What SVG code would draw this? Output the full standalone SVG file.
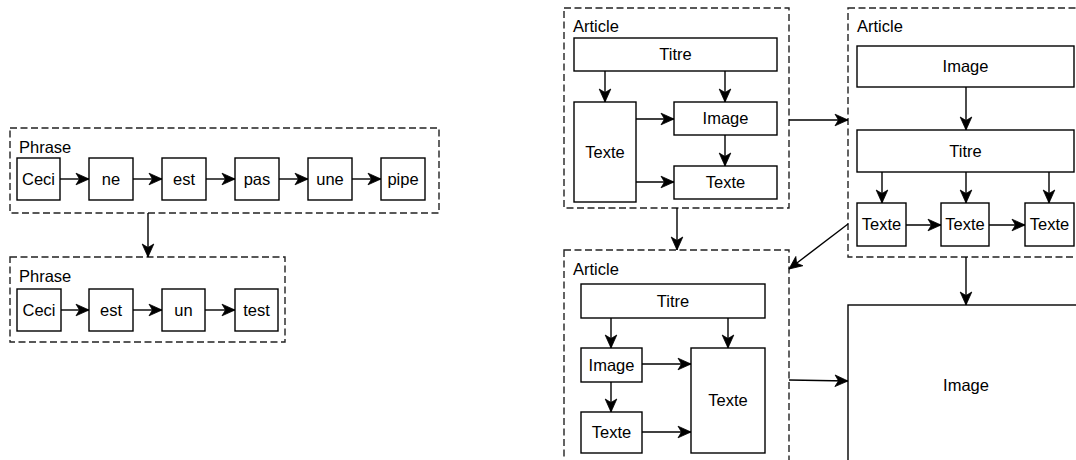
<svg xmlns="http://www.w3.org/2000/svg" width="1076" height="460" viewBox="0 0 1076 460">
  <style>
    .bg { fill: #ffffff; }
    .group { fill: none; stroke: #222222; stroke-width: 1.4; stroke-dasharray: 7 3.5; }
    .box { fill: #ffffff; stroke: #000000; stroke-width: 1.4; }
    .edge { fill: none; stroke: #000000; stroke-width: 1.4; marker-end: url(#arrow); }
    text { font-family: "Liberation Sans", Arial, sans-serif; font-size: 16.5px; fill: #000000; }
    .c { text-anchor: middle; }
  </style>
  <defs>
    <marker id="arrow" viewBox="-14 -8 15 16" refX="0" refY="0" markerWidth="15" markerHeight="16" markerUnits="userSpaceOnUse" orient="auto">
      <path d="M0,0 L-13,-5.8 L-9.5,0 L-13,5.8 Z" fill="#000000" stroke="#000000" stroke-width="0.8" stroke-linejoin="miter"/>
    </marker>
  </defs>
  <rect class="bg" x="0" y="0" width="1076" height="460"/>

  <!-- Sentence 1 -->
  <g id="phrase1">
    <rect class="group" x="10" y="128" width="429" height="85"/>
    <text x="19" y="153">Phrase</text>
  </g>
  <g id="p1-ceci"><rect class="box" x="17" y="158" width="43" height="42"/><text class="c" x="38.5" y="185">Ceci</text></g>
  <g id="p1-ne"><rect class="box" x="89" y="158" width="44" height="42"/><text class="c" x="111" y="185">ne</text></g>
  <g id="p1-est"><rect class="box" x="162" y="158" width="44" height="42"/><text class="c" x="184" y="185">est</text></g>
  <g id="p1-pas"><rect class="box" x="235" y="158" width="44" height="42"/><text class="c" x="257" y="185">pas</text></g>
  <g id="p1-une"><rect class="box" x="308" y="158" width="44" height="42"/><text class="c" x="330" y="185">une</text></g>
  <g id="p1-pipe"><rect class="box" x="381" y="158" width="44" height="42"/><text class="c" x="403" y="185">pipe</text></g>

  <!-- Sentence 2 -->
  <g id="phrase2">
    <rect class="group" x="10" y="257" width="275" height="85"/>
    <text x="19" y="282">Phrase</text>
  </g>
  <g id="p2-ceci"><rect class="box" x="17" y="289" width="44" height="42"/><text class="c" x="39" y="316">Ceci</text></g>
  <g id="p2-est"><rect class="box" x="89" y="289" width="44" height="42"/><text class="c" x="111" y="316">est</text></g>
  <g id="p2-un"><rect class="box" x="162" y="289" width="43" height="42"/><text class="c" x="183.5" y="316">un</text></g>
  <g id="p2-test"><rect class="box" x="235" y="289" width="43" height="42"/><text class="c" x="256.5" y="316">test</text></g>

  <!-- Article 1 -->
  <g id="article1">
    <rect class="group" x="564" y="8" width="225" height="200"/>
    <text x="573" y="32">Article</text>
  </g>
  <g id="a1-titre"><rect class="box" x="574" y="38" width="203" height="33"/><text class="c" x="675.5" y="60">Titre</text></g>
  <g id="a1-texte-side"><rect class="box" x="574" y="102" width="62" height="100"/><text class="c" x="605" y="157.5">Texte</text></g>
  <g id="a1-image"><rect class="box" x="674" y="102" width="103" height="33"/><text class="c" x="725.5" y="124">Image</text></g>
  <g id="a1-texte"><rect class="box" x="674" y="166" width="103" height="33"/><text class="c" x="725.5" y="188">Texte</text></g>

  <!-- Article 2 -->
  <g id="article2">
    <rect class="group" x="848" y="8" width="240" height="249"/>
    <text x="857" y="32">Article</text>
  </g>
  <g id="a2-image"><rect class="box" x="857" y="46" width="217" height="41"/><text class="c" x="965.5" y="72">Image</text></g>
  <g id="a2-titre"><rect class="box" x="857" y="130" width="217" height="42"/><text class="c" x="965.5" y="157">Titre</text></g>
  <g id="a2-texte1"><rect class="box" x="857" y="203" width="49" height="43"/><text class="c" x="881.5" y="230">Texte</text></g>
  <g id="a2-texte2"><rect class="box" x="941" y="203" width="48" height="43"/><text class="c" x="965" y="230">Texte</text></g>
  <g id="a2-texte3"><rect class="box" x="1025" y="203" width="49" height="43"/><text class="c" x="1049.5" y="230">Texte</text></g>

  <!-- Article 3 -->
  <g id="article3">
    <rect class="group" x="564" y="250" width="225" height="230"/>
    <text x="573" y="275">Article</text>
  </g>
  <g id="a3-titre"><rect class="box" x="581" y="284" width="184" height="34"/><text class="c" x="673" y="307">Titre</text></g>
  <g id="a3-image"><rect class="box" x="581" y="348" width="61" height="34"/><text class="c" x="611.5" y="371">Image</text></g>
  <g id="a3-texte-small"><rect class="box" x="581" y="412" width="61" height="41"/><text class="c" x="611.5" y="438">Texte</text></g>
  <g id="a3-texte-big"><rect class="box" x="691" y="348" width="74" height="105"/><text class="c" x="728" y="406">Texte</text></g>

  <!-- Full-size image -->
  <g id="image-full">
    <rect class="box" x="848" y="305" width="240" height="200"/>
    <text class="c" x="966" y="391">Image</text>
  </g>

  <g id="connectors">
    <!-- sentence 1 chain -->
    <line class="edge" x1="60" y1="179" x2="89" y2="179"/>
    <line class="edge" x1="133" y1="179" x2="162" y2="179"/>
    <line class="edge" x1="206" y1="179" x2="235" y2="179"/>
    <line class="edge" x1="279" y1="179" x2="308" y2="179"/>
    <line class="edge" x1="352" y1="179" x2="381" y2="179"/>
    <!-- sentence 1 to sentence 2 -->
    <line class="edge" x1="148" y1="213" x2="148" y2="257"/>
    <!-- sentence 2 chain -->
    <line class="edge" x1="61" y1="310" x2="89" y2="310"/>
    <line class="edge" x1="133" y1="310" x2="162" y2="310"/>
    <line class="edge" x1="205" y1="310" x2="235" y2="310"/>

    <!-- article 1 -->
    <line class="edge" x1="605" y1="71" x2="605" y2="102"/>
    <line class="edge" x1="725" y1="71" x2="725" y2="102"/>
    <line class="edge" x1="636" y1="119" x2="674" y2="119"/>
    <line class="edge" x1="636" y1="182" x2="674" y2="182"/>
    <line class="edge" x1="725" y1="135" x2="725" y2="166"/>

    <!-- between articles -->
    <line class="edge" x1="789" y1="120" x2="848" y2="120"/>
    <line class="edge" x1="677" y1="208" x2="677" y2="250"/>
    <line class="edge" x1="848" y1="224" x2="789" y2="269"/>
    <line class="edge" x1="966" y1="257" x2="966" y2="305"/>
    <line class="edge" x1="789" y1="380" x2="848" y2="381"/>

    <!-- article 2 -->
    <line class="edge" x1="966" y1="87" x2="966" y2="130"/>
    <line class="edge" x1="882" y1="172" x2="882" y2="203"/>
    <line class="edge" x1="966" y1="172" x2="966" y2="203"/>
    <line class="edge" x1="1049" y1="172" x2="1049" y2="203"/>
    <line class="edge" x1="906" y1="225" x2="941" y2="225"/>
    <line class="edge" x1="989" y1="225" x2="1025" y2="225"/>

    <!-- article 3 -->
    <line class="edge" x1="611" y1="318" x2="611" y2="348"/>
    <line class="edge" x1="728" y1="318" x2="728" y2="348"/>
    <line class="edge" x1="642" y1="364" x2="691" y2="364"/>
    <line class="edge" x1="642" y1="432" x2="691" y2="432"/>
    <line class="edge" x1="611" y1="382" x2="611" y2="412"/>
  </g>
</svg>
